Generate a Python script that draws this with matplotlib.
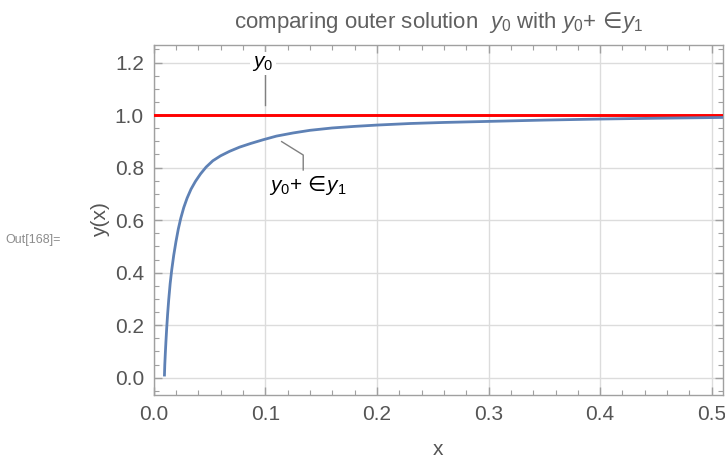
import matplotlib
matplotlib.use("Agg")
import matplotlib.pyplot as plt
from matplotlib.ticker import MultipleLocator

plt.rcParams['font.family'] = ['Liberation Sans', 'DejaVu Sans']
plt.rcParams['mathtext.fontset'] = 'custom'
plt.rcParams['mathtext.rm'] = 'Liberation Sans'
plt.rcParams['mathtext.it'] = 'Liberation Sans:italic'
plt.rcParams['mathtext.sf'] = 'DejaVu Sans'

# y0 (outer solution, leading order)
x_y0 = [0.0, 0.51]
y0 = [1.0, 1.0]

# y0 + eps*y1
x_y01 = [0.0097, 0.0100, 0.0105, 0.0110, 0.0117, 0.0125, 0.0135, 0.0148, 0.0162,
         0.0180, 0.0200, 0.0221, 0.0243, 0.0270, 0.0300, 0.0335, 0.0375, 0.0420,
         0.0470, 0.0530, 0.0600, 0.0680, 0.0770, 0.0870, 0.0980, 0.1100, 0.1250,
         0.1400, 0.1600, 0.1800, 0.2000, 0.2300, 0.2600, 0.3000, 0.3500, 0.4000,
         0.4500, 0.5100]
y01 = [0.010, 0.050, 0.095, 0.136, 0.188, 0.240, 0.296, 0.358, 0.410,
       0.466, 0.518, 0.566, 0.607, 0.648, 0.684, 0.718, 0.748, 0.776,
       0.802, 0.826, 0.845, 0.862, 0.878, 0.892, 0.906, 0.920, 0.932,
       0.942, 0.951, 0.957, 0.962, 0.968, 0.972, 0.976, 0.981, 0.985,
       0.988, 0.991]

x_ticks = [0.0, 0.1, 0.2, 0.3, 0.4, 0.5]
y_ticks = [0.0, 0.2, 0.4, 0.6, 0.8, 1.0, 1.2]

title = r"comparing outer solution  $y_0$ with $y_0$+$\,{\mathsf{\in}}\!y_1$"
label_y0 = r"$y_0$"
label_y01 = r"$y_0$+$\,{\mathsf{\in}}\!y_1$"

fig = plt.figure(figsize=(7.25, 4.59), dpi=100)
ax = fig.add_axes([0.2119, 0.1394, 0.9972 - 0.2119, 0.902 - 0.1394])

ax.plot(x_y0, y0, color='#ff0000', lw=2.1, zorder=3)
ax.plot(x_y01, y01, color='#5e81b5', lw=2.0, zorder=3)

ax.set_xlim(0.0, 0.51)
ax.set_ylim(-0.066, 1.267)
ax.set_xticks(x_ticks)
ax.set_yticks(y_ticks)
ax.set_xticklabels([f"{v:.1f}" for v in x_ticks])
ax.set_yticklabels([f"{v:.1f}" for v in y_ticks])
ax.xaxis.set_minor_locator(MultipleLocator(0.02))
ax.yaxis.set_minor_locator(MultipleLocator(0.05))

ax.grid(True, which='major', color='#dcdcdc', lw=1.0, zorder=0)
ax.set_axisbelow(True)

for s in ax.spines.values():
    s.set_color('#a0a0a0')
    s.set_linewidth(1.0)

tick_col = '#a0a0a0'
lab_col = '#555555'
ax.tick_params(which='both', direction='in', top=True, right=True, color=tick_col,
               labelcolor=lab_col, labelsize=15)
ax.tick_params(which='major', length=6, width=1.0, pad=7)
ax.tick_params(which='minor', length=3.5, width=0.8)

ax.set_xlabel('x', fontsize=15, color=lab_col, labelpad=12)
ax.set_ylabel('y(x)', fontsize=15, color=lab_col, labelpad=3)
ax.set_title(title, fontsize=16, color='#606060', pad=12)

# annotation for y0
ax.plot([0.1, 0.1], [1.039, 1.153], color='#808080', lw=1.0, zorder=4)
ax.text(0.098, 1.198, label_y0, fontsize=15, color='black', ha='center', va='center',
        zorder=5, bbox=dict(facecolor='white', edgecolor='none', pad=1.5))

# annotation for y0 + eps y1
ax.plot([0.1147, 0.134, 0.134], [0.899, 0.848, 0.791], color='#808080', lw=1.0, zorder=4)
ax.text(0.138, 0.730, label_y01, fontsize=15, color='black', ha='center', va='center',
        zorder=5, bbox=dict(facecolor='white', edgecolor='none', pad=1.5))

fig.text(5 / 725, 1 - 240 / 459, 'Out[168]=', fontsize=9, color='#8c8c8c',
         ha='left', va='center')

fig.savefig('out.png', dpi=100)
